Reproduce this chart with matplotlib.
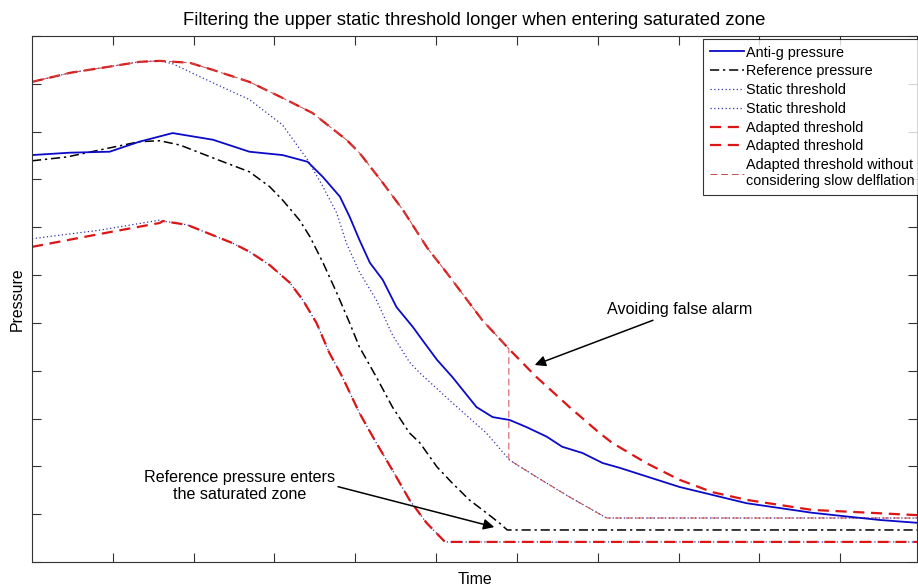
import numpy as np
import matplotlib
matplotlib.use("Agg")
import matplotlib.pyplot as plt

plt.rcParams['font.family'] = ['Liberation Sans', 'DejaVu Sans']

# anti-g pressure (blue solid)
t_antig = [0.00, 0.47, 0.96, 1.33, 1.74, 2.24, 2.69, 3.10, 3.41, 3.60, 3.81, 3.93, 4.05, 4.18,
           4.34, 4.51, 4.71, 4.80, 5.01, 5.20, 5.50, 5.70, 5.91, 6.12, 6.37, 6.56, 6.81, 7.06,
           7.27, 8.01, 8.84, 9.65, 10.48, 10.95]
p_antig = [8.51, 8.56, 8.58, 8.79, 8.97, 8.83, 8.58, 8.51, 8.37, 8.05, 7.64, 7.22, 6.74, 6.26,
           5.90, 5.33, 4.92, 4.71, 4.23, 3.87, 3.24, 3.03, 2.97, 2.82, 2.62, 2.41, 2.28, 2.07,
           1.97, 1.57, 1.23, 1.03, 0.88, 0.82]

# reference pressure (black dash-dot)
t_ref = [0.00, 0.43, 0.96, 1.33, 1.58, 1.83, 2.24, 2.69, 2.94, 3.10, 3.31, 3.44, 3.60, 3.77,
         3.93, 4.05, 4.26, 4.46, 4.67, 4.80, 5.01, 5.20, 5.41, 5.62, 5.78, 5.88, 10.95]
p_ref = [8.39, 8.47, 8.66, 8.79, 8.81, 8.72, 8.45, 8.16, 7.85, 7.57, 7.15, 6.80, 6.26, 5.63,
         5.00, 4.50, 3.87, 3.24, 2.70, 2.49, 1.99, 1.65, 1.30, 1.03, 0.82, 0.67, 0.67]

# upper static threshold (blue dotted)
t_st_up = [0.00, 0.47, 0.96, 1.33, 1.58, 1.74, 2.24, 2.69, 3.10, 3.41, 3.60, 3.77, 3.89, 4.05,
           4.26, 4.46, 4.67, 4.80, 5.20, 5.62, 5.91, 6.24, 6.65, 7.11, 10.95]
p_st_up = [10.04, 10.23, 10.36, 10.46, 10.48, 10.42, 10.02, 9.67, 9.14, 8.41, 7.85, 7.30, 6.67,
           6.07, 5.48, 4.75, 4.18, 3.95, 3.33, 2.70, 2.13, 1.78, 1.36, 0.92, 0.92]

# upper adapted threshold (red dashed)
t_ad_up = [0.00, 0.47, 0.96, 1.33, 1.58, 1.95, 2.24, 2.69, 3.07, 3.47, 3.89, 4.05, 4.34, 4.59,
           4.89, 5.13, 5.45, 5.57, 5.91, 6.24, 6.65, 7.02, 7.18, 7.60, 8.01, 8.42, 8.84, 9.65,
           10.95]
p_ad_up = [10.04, 10.23, 10.36, 10.46, 10.48, 10.44, 10.29, 10.04, 9.73, 9.39, 8.83, 8.56, 7.93,
           7.36, 6.57, 6.05, 5.33, 5.06, 4.44, 3.87, 3.24, 2.70, 2.49, 2.07, 1.72, 1.46, 1.30,
           1.09, 0.98]

# lower adapted threshold (red dashed)
t_ad_lo = [0.00, 0.84, 1.58, 1.62, 1.92, 2.48, 2.69, 2.94, 3.19, 3.35, 3.52, 3.68, 3.84, 4.05,
           4.26, 4.46, 4.67, 4.88, 5.11, 10.95]
p_ad_lo = [6.59, 6.86, 7.09, 7.13, 7.05, 6.67, 6.49, 6.21, 5.84, 5.48, 5.00, 4.37, 3.87, 3.12,
           2.49, 1.92, 1.30, 0.82, 0.42, 0.42]

# lower static threshold: own values before the peak, then same as adapted
t_st_lo = [0.00, 0.84, 1.58] + t_ad_lo[3:]
p_st_lo = [6.76, 6.94, 7.15] + p_ad_lo[3:]

# instant where the thin "without slow deflation" threshold drops
t_drop = 5.90

# thin line: adapted upper until the drop, then static upper
t_up = np.array(t_ad_up)
t_sp = np.array(t_st_up)
t_wo = np.concatenate([t_up[t_up < t_drop], [t_drop, t_drop], t_sp[t_sp > t_drop]])
p_wo = np.concatenate([np.array(p_ad_up)[t_up < t_drop],
                       [np.interp(t_drop, t_ad_up, p_ad_up), np.interp(t_drop, t_st_up, p_st_up)],
                       np.array(p_st_up)[t_sp > t_drop]])

fig = plt.figure(figsize=(9.18, 5.86), dpi=100)
ax = fig.add_axes([32/918, 24/586, 885/918, 526/586])

blue = '#0a0ac8'
red = '#dd1515'

h_st1, = ax.plot(t_st_up, p_st_up, color='#3030b0', lw=0.9, ls=(0, (1, 2)), label='Static threshold')
h_st2, = ax.plot(t_st_lo, p_st_lo, color='#3030b0', lw=0.9, ls=(0, (1, 2)), label='Static threshold')
h_ad1, = ax.plot(t_ad_up, p_ad_up, color=red, lw=1.6, ls=(0, (5, 3)), label='Adapted threshold')
h_ad2, = ax.plot(t_ad_lo, p_ad_lo, color=red, lw=1.6, ls=(0, (5, 3)), label='Adapted threshold')
h_wo, = ax.plot(t_wo, p_wo, color='#c84a4a', lw=0.7, ls=(0, (7, 4)),
                label='Adapted threshold without\nconsidering slow delflation')
h_ref, = ax.plot(t_ref, p_ref, color='black', lw=1.1, ls=(0, (6, 2.5, 1.5, 2.5)), label='Reference pressure')
h_ag, = ax.plot(t_antig, p_antig, color=blue, lw=1.3, label='Anti-g pressure')
for h in (h_st1, h_st2, h_ad1, h_ad2, h_wo, h_ref, h_ag):
    h.set_solid_joinstyle('round')
    h.set_dash_joinstyle('round')

ax.set_xlim(0, 10.95)
ax.set_ylim(0, 11)
ax.set_xticks(range(1, 11))
ax.set_yticks(range(0, 12))
ax.set_xticklabels([])
ax.set_yticklabels([])
ax.tick_params(direction='in', top=True, right=True, length=6.5, width=0.8, color='#333333')
for s in ax.spines.values():
    s.set_color('#333333')
    s.set_linewidth(0.8)

ax.set_title('Filtering the upper static threshold longer when entering saturated zone',
             fontsize=13.3, pad=8)
ax.set_xlabel('Time', fontsize=11.4, labelpad=4)
ax.set_ylabel('Pressure', fontsize=11.4, labelpad=2)

ax.annotate('Avoiding false alarm', xy=(6.22, 4.12), xytext=(7.12, 5.27),
            fontsize=11.6, ha='left', va='center',
            arrowprops=dict(arrowstyle='-|>', color='black', lw=1.1,
                            shrinkA=0, shrinkB=0, mutation_scale=16))
ax.annotate('Reference pressure enters\nthe saturated zone', xy=(5.72, 0.73), xytext=(2.57, 1.59),
            fontsize=11.6, ha='center', va='center', linespacing=1.2,
            arrowprops=dict(arrowstyle='-|>', color='black', lw=1.1,
                            shrinkA=0, shrinkB=0, mutation_scale=16, relpos=(1.0, 0.5)))

leg = ax.legend(handles=[h_ag, h_ref, h_st1, h_st2, h_ad1, h_ad2, h_wo],
                loc='upper left', bbox_to_anchor=((703 - 32) / 885, (562 - 39) / 526),
                fontsize=10.4, frameon=True, fancybox=False, borderaxespad=0,
                handlelength=2.4, handletextpad=0.15, labelspacing=0.33, borderpad=0.45)
leg.get_frame().set_edgecolor('black')
leg.get_frame().set_linewidth(0.8)

fig.savefig('out.png', dpi=100)
